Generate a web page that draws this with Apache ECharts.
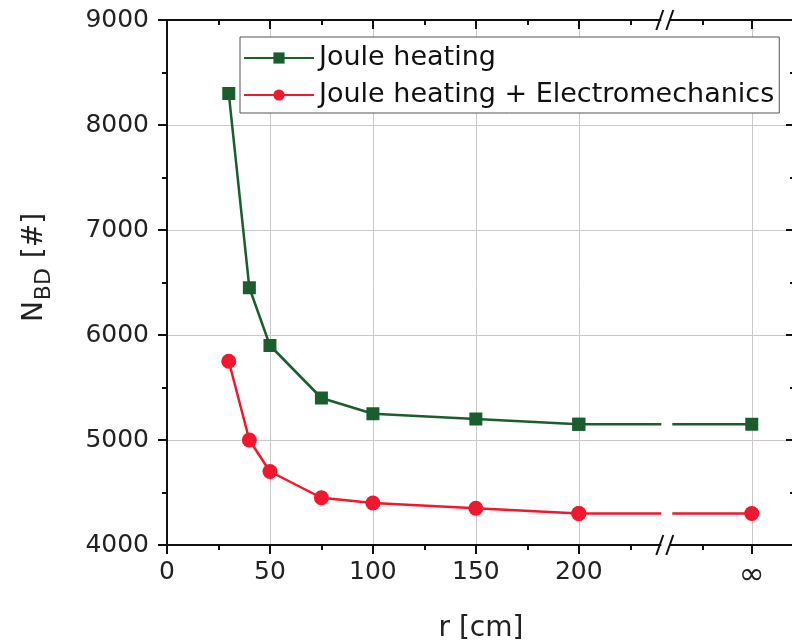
<!DOCTYPE html>
<html><head><meta charset="utf-8">
<script src="https://cdn.jsdelivr.net/npm/echarts@6/dist/echarts.min.js"></script>
<style>html,body{margin:0;padding:0;background:#fff}#c{width:792px;height:644px}</style>
</head><body><div id="c"></div>
<script>
// ---- data ----
const rLabels = ['30', '40', '50', '75', '100', '150', '200', '∞'];
const rPositions = [30, 40, 50, 75, 100, 150, 200, 284]; // 284 = axis position used for ∞ (after the break)
const jouleHeating = [8300, 6450, 5900, 5400, 5250, 5200, 5150, 5150];
const jouleElectro = [5750, 5000, 4700, 4450, 4400, 4350, 4300, 4300];
const xMajorTicks = [0, 50, 100, 150, 200, 284];
const xMajorLabels = ['0', '50', '100', '150', '200', '∞'];
const xMinorTicks = [25, 75, 125, 175, 225, 260];
const xBreakAt = 242;
const seriesNames = ['Joule heating', 'Joule heating + Electromechanics'];

// ---- style ----
const FONT = 'DejaVu Sans';
const GREEN = '#1b5e2e';
const RED = '#f0172f';
const AXIS = '#111';
const GRIDC = '#c9c9c9';

const chart = echarts.init(document.getElementById('c'), null, {renderer: 'canvas'});

function pts(vals, from, to) {
  const out = [];
  for (let i = from; i < to; i++) out.push([rPositions[i], vals[i]]);
  return out;
}
const nMain = rPositions.length - 1;

function baseX(pos, ticks, len, showLine) {
  return {
    type: 'value', position: pos, min: 0, max: 305, gridIndex: 0,
    axisLine: {show: showLine, onZero: false, lineStyle: {color: AXIS, width: 2}},
    axisTick: {show: true, inside: pos === 'top', length: len, customValues: ticks, lineStyle: {color: AXIS, width: 2}},
    axisLabel: {show: false},
    splitLine: {show: false}
  };
}

const labelMap = {};
xMajorTicks.forEach((v, i) => labelMap[v] = xMajorLabels[i]);

const xMain = baseX('bottom', xMajorTicks, 9, true);
xMain.axisLabel = {
  show: true, customValues: xMajorTicks, margin: 15,
  formatter: v => {
    const t = labelMap[v];
    if (t === undefined) return '';
    return t === '∞' ? '{inf|∞}' : t;
  },
  color: '#222', fontFamily: FONT, fontSize: 25,
  rich: {inf: {fontFamily: FONT, fontSize: 31, color: '#222', padding: [0, 0, 2, 0]}}
};
xMain.splitLine = {show: true, lineStyle: {color: GRIDC, width: 1}};
xMain.name = 'r [cm]';
xMain.nameLocation = 'middle';
xMain.nameGap = 70;
xMain.nameTextStyle = {color: '#222', fontFamily: FONT, fontSize: 28};

function baseY(pos) {
  return {
    type: 'value', position: pos, min: 4000, max: 9000, interval: 1000, gridIndex: 0,
    axisLine: {show: true, onZero: false, lineStyle: {color: AXIS, width: 2}},
    axisTick: {show: true, inside: pos === 'right', length: 9, lineStyle: {color: AXIS, width: 2}},
    minorTick: {show: true, splitNumber: 2, length: 5, lineStyle: {color: AXIS, width: 2}},
    axisLabel: {show: false},
    splitLine: {show: false}
  };
}
const yMain = baseY('left');
yMain.axisLabel = {show: true, margin: 18, color: '#222', fontFamily: FONT, fontSize: 25, formatter: v => String(v)};
yMain.splitLine = {show: true, lineStyle: {color: GRIDC, width: 1}};
yMain.name = '{n|N}{s|BD}{n| [#]}';
yMain.nameLocation = 'middle';
yMain.nameRotate = 90;
yMain.nameGap = 112;
yMain.nameTextStyle = {
  color: '#222', fontFamily: FONT, fontSize: 28, padding: [0, 0, 0, 30],
  rich: {
    n: {fontFamily: FONT, fontSize: 28, color: '#222', lineHeight: 34, verticalAlign: 'bottom', padding: [0, 0, 6, 0]},
    s: {fontFamily: FONT, fontSize: 22, color: '#222', lineHeight: 34, verticalAlign: 'bottom', padding: [0, 1, 0, 1]}
  }
};
const yRight = baseY('right');

function mkSeries(name, vals, color, symbol, size, from, to) {
  return {
    name: name, type: 'line', xAxisIndex: 0, yAxisIndex: 0,
    data: pts(vals, from, to),
    symbol: symbol, symbolSize: size, showSymbol: true,
    itemStyle: {color: color},
    lineStyle: {color: color, width: 2.5},
    emphasis: {disabled: true},
    animation: false, z: 3
  };
}

const series = [
  mkSeries(seriesNames[0], jouleHeating, GREEN, 'rect', 13, 0, nMain),
  mkSeries(seriesNames[1], jouleElectro, RED, 'circle', 15, 0, nMain),
  mkSeries(seriesNames[0] + ' tail', jouleHeating, GREEN, 'rect', 13, nMain - 1, nMain + 1),
  mkSeries(seriesNames[1] + ' tail', jouleElectro, RED, 'circle', 15, nMain - 1, nMain + 1)
];

const option = {
  backgroundColor: '#fff',
  animation: false,
  grid: {left: 167, right: -3, top: 20, bottom: 99, containLabel: false, outerBoundsMode: 'none'},
  xAxis: [xMain, baseX('bottom', xMinorTicks, 5, false), baseX('top', xMajorTicks, 9, true), baseX('top', xMinorTicks, 5, false)],
  yAxis: [yMain, yRight],
  legend: {
    data: seriesNames, orient: 'vertical', left: 240, top: 37,
    padding: [6, 5, 3, 3], itemGap: 7, itemWidth: 70, itemHeight: 14,
    backgroundColor: '#fff', borderColor: '#555', borderWidth: 1,
    textStyle: {color: '#111', fontFamily: FONT, fontSize: 27, lineHeight: 30},
    selectedMode: false
  },
  series: series
};
chart.setOption(option);

// dash pattern on the tail segment to open a gap at the axis break, and the // break marks
const pA = chart.convertToPixel({xAxisIndex: 0, yAxisIndex: 0}, [rPositions[nMain - 1], 9000]);
const pB = chart.convertToPixel({xAxisIndex: 0, yAxisIndex: 0}, [xBreakAt, 9000]);
const pBot = chart.convertToPixel({xAxisIndex: 0, yAxisIndex: 0}, [xBreakAt, 4000]);
const gap = 11;
const dash = [pB[0] - pA[0] - gap / 2 + 1.5, gap, 1000];
const bx = pB[0];
function breakMark(y) {
  return [
    {type: 'rect', z: 100, shape: {x: bx - 4, y: y - 3, width: 8, height: 6}, style: {fill: '#fff'}},
    {type: 'line', z: 101, shape: {x1: bx - 9, y1: y + 10, x2: bx - 2, y2: y - 10}, style: {stroke: AXIS, lineWidth: 2}},
    {type: 'line', z: 101, shape: {x1: bx + 1, y1: y + 10, x2: bx + 8, y2: y - 10}, style: {stroke: AXIS, lineWidth: 2}}
  ];
}
chart.setOption({
  series: [{}, {}, {lineStyle: {type: dash}}, {lineStyle: {type: dash}}],
  graphic: breakMark(pB[1]).concat(breakMark(pBot[1]))
});
</script>
</body></html>
